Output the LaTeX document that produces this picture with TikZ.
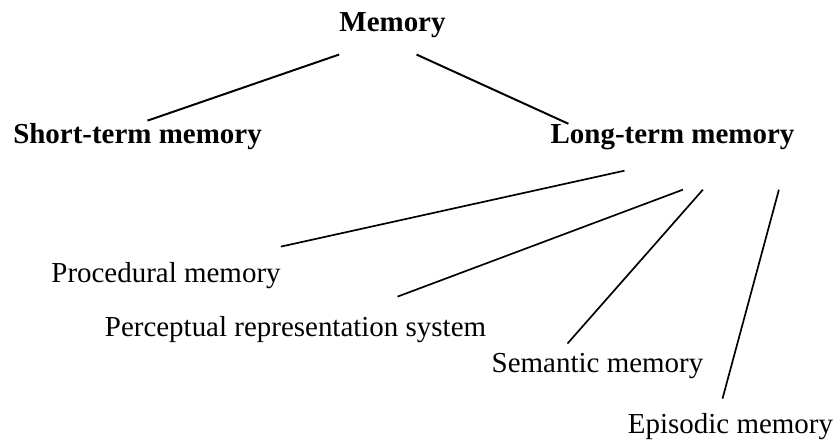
\documentclass[tikz,border=0pt]{standalone}
\usepackage{fontspec}
\setmainfont{Liberation Serif}
\begin{document}
\begin{tikzpicture}[
                    term/.style={
            		inner sep=0pt,
			anchor=base,
			font=\fontsize{20.6}{24}\selectfont,
            	},
                    head/.style={
            		term,
			font=\fontsize{20.6}{24}\selectfont\bfseries,
            	},
                    link/.style={
            		line width=1.2pt,
            	} ]

\useasboundingbox (0,0) rectangle (20.875,-11);

\draw 
(9.8125,-0.8) node[head] (mem) {Memory}
(3.4375,-3.575) node[head] (stm) {Short-term memory}
(16.8125,-3.575) node[head] (ltm) {Long-term memory}
(4.15,-7.05) node[term] (proc) {Procedural memory}
(7.3875,-8.4) node[term] (perc) {Perceptual representation system}
(14.9375,-9.3) node[term] (sem) {Semantic memory}
(18.2625,-10.825) node[term] (epi) {Episodic memory}
(mem.south west) ++(0,-0.4) coordinate[](mem_left) {}
(mem.south) ++(0.6,-0.4) coordinate[](mem_right) {}
(stm.north) ++(0.25,0.05) coordinate[](stm_top) {}
(ltm.north west) ++(0.45,0) coordinate[](ltm_top) {}
(ltm.south) ++(-1.2,-0.525) coordinate[](proc_out) {}
(ltm.south) ++(0.26,-1) coordinate[](perc_out) {}
(ltm.south) ++(0.76,-1) coordinate[](sem_out) {}
(ltm.south) ++(2.66,-1) coordinate[](epi_out) {}
(proc.north east) ++(0,0.375) coordinate[](proc_in) {}
(perc.north) ++(2.55,0.475) coordinate[](perc_in) {}
(sem.north) ++(-0.75,0.225) coordinate[](sem_in) {}
(epi.north) ++(-0.2,0.35) coordinate[](epi_in) {}
;
\draw[link, line width=1.4pt] (mem_left) -- (stm_top);
\draw[link, line width=1.4pt] (mem_right) -- (ltm_top);
\draw[link] (proc_out) -- (proc_in);
\draw[link] (perc_out) -- (perc_in);
\draw[link] (sem_out) -- (sem_in);
\draw[link] (epi_out) -- (epi_in);

\end{tikzpicture}
\end{document}
